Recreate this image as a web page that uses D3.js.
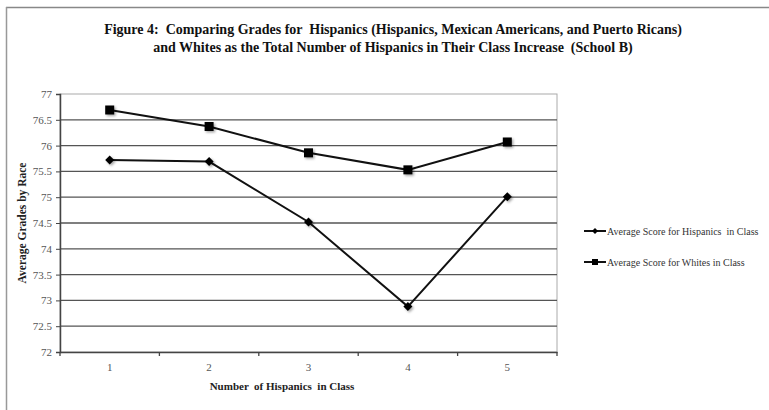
<!DOCTYPE html>
<html><head><meta charset="utf-8">
<script src="https://cdn.jsdelivr.net/npm/d3@7"></script>
<style>body{margin:0;background:#fff}svg{display:block}text{font-family:"Liberation Serif","Times New Roman",serif;white-space:pre}</style>
</head><body><svg id="c" width="769" height="410"></svg>
<script>
const categories = ["1","2","3","4","5"];
const hispanics = [75.72, 75.69, 74.52, 72.88, 75.01];
const whites = [76.69, 76.37, 75.86, 75.53, 76.07];
const yTicks = [72,72.5,73,73.5,74,74.5,75,75.5,76,76.5,77];
const seriesNames = ["Average Score for Hispanics  in Class","Average Score for Whites in Class"];
const titleLines = ["Figure 4:  Comparing Grades for  Hispanics (Hispanics, Mexican Americans, and Puerto Ricans)","and Whites as the Total Number of Hispanics in Their Class Increase  (School B)"];

const svg = d3.select("#c");
const L=60,R=557,T=94,B=352;
svg.append("line").attr("x1",6).attr("x2",769).attr("y1",7.5).attr("y2",7.5).attr("stroke","#888").attr("stroke-width",1.5);
svg.append("line").attr("x1",6.5).attr("x2",6.5).attr("y1",7).attr("y2",410).attr("stroke","#999").attr("stroke-width",1.5);

const x = d3.scaleBand().domain(categories).range([L,R]);
const y = d3.scaleLinear().domain([72,77]).range([B,T]);

svg.append("g").selectAll("text").data(titleLines).join("text")
  .attr("x",393).attr("y",(d,i)=>34+i*18).attr("text-anchor","middle")
  .attr("font-weight","bold").attr("font-size",14).attr("fill","#111").text(d=>d);

svg.append("rect").attr("x",L).attr("y",T).attr("width",R-L).attr("height",B-T).attr("fill","none").attr("stroke","#aaa").attr("stroke-width",1);
svg.append("g").selectAll("line").data(yTicks.filter(v=>v>72 && v<77)).join("line")
  .attr("x1",L).attr("x2",R).attr("y1",d=>y(d)).attr("y2",d=>y(d)).attr("stroke","#555").attr("stroke-width",1.3);

const ya = svg.append("g").attr("transform",`translate(${L},0)`)
  .call(d3.axisLeft(y).tickValues(yTicks).tickFormat(d=>String(d)).tickSize(4).tickPadding(4));
ya.select(".domain").attr("stroke","#444").attr("stroke-width",1.5);
ya.selectAll(".tick line").attr("stroke","#444");
ya.selectAll("text").attr("font-size",11).attr("fill","#555").attr("font-family","Liberation Serif, serif");

const xa = svg.append("g").attr("transform",`translate(0,${B})`)
  .call(d3.axisBottom(x).tickSize(0).tickPadding(11));
xa.select(".domain").attr("stroke","#444").attr("stroke-width",1.5);
xa.selectAll("text").attr("font-size",11).attr("fill","#555").attr("font-family","Liberation Serif, serif");
const bounds = categories.map(c=>x(c)).concat([R]);
svg.append("g").selectAll("line").data(bounds).join("line")
  .attr("x1",d=>d).attr("x2",d=>d).attr("y1",B).attr("y2",B+4).attr("stroke","#444").attr("stroke-width",1.3);

svg.append("text").attr("transform",`translate(26,${(T+B)/2}) rotate(-90)`).attr("text-anchor","middle")
  .attr("font-weight","bold").attr("font-size",11.5).attr("fill","#222").text("Average Grades by Race");
svg.append("text").attr("x",282).attr("y",390).attr("text-anchor","middle")
  .attr("font-weight","bold").attr("font-size",11).attr("fill","#222").text("Number  of Hispanics  in Class");

const cx = c=>x(c)+x.bandwidth()/2;
const line = d3.line().x((d,i)=>cx(categories[i])).y(d=>y(d));
const defs = svg.append("defs");
defs.append("filter").attr("id","sh").attr("x","-50%").attr("y","-50%").attr("width","200%").attr("height","200%")
  .html('<feDropShadow dx="1.5" dy="1.5" stdDeviation="1" flood-color="#000" flood-opacity="0.35"/>');

[hispanics,whites].forEach((s,k)=>{
  svg.append("path").datum(s).attr("d",line).attr("fill","none").attr("stroke","#111").attr("stroke-width",2);
  svg.append("g").selectAll("path").data(s).join("path")
    .attr("transform",(d,i)=>`translate(${cx(categories[i])},${y(d)})`)
    .attr("d",k===0? "M0,-4.5L4.5,0L0,4.5L-4.5,0Z" : "M-4.5,-4.5H4.5V4.5H-4.5Z")
    .attr("fill","#000").attr("filter","url(#sh)");
});

const lg = svg.append("g");
seriesNames.forEach((n,k)=>{
  const yy = 231 + k*31;
  lg.append("line").attr("x1",584).attr("x2",606).attr("y1",yy).attr("y2",yy).attr("stroke","#111").attr("stroke-width",2);
  lg.append("path").attr("transform",`translate(595,${yy})`)
    .attr("d",k===0? "M0,-3L3,0L0,3L-3,0Z" : "M-3,-3H3V3H-3Z").attr("fill","#000");
  lg.append("text").attr("x",607).attr("y",yy+3.5).attr("font-size",10).attr("fill","#333").text(n);
});
</script></body></html>
